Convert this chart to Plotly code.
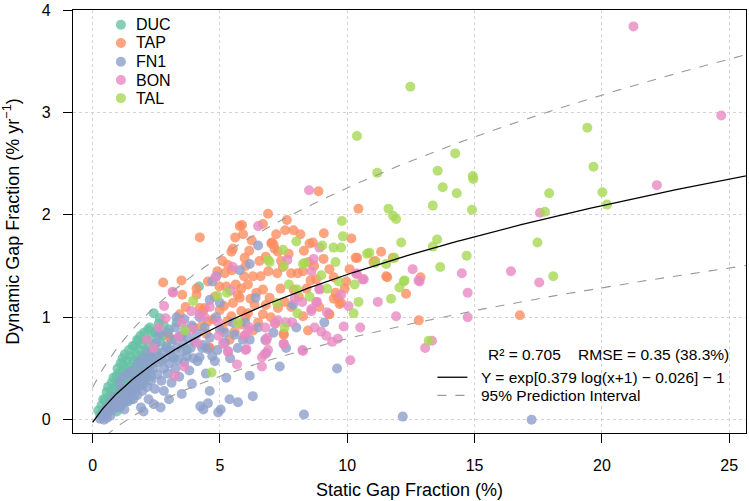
import numpy as np
import plotly.graph_objects as go

# ---- data ----
duc_x = [0.22, 0.3, 0.35, 0.42, 0.48, 0.5, 0.55, 0.58, 0.61, 0.65,
         0.7, 0.72, 0.75, 0.78, 0.82, 0.85, 0.88, 0.9, 0.94, 0.96, 0.98, 1.0,
         1.03, 1.05, 1.08, 1.1, 1.12, 1.15, 1.18, 1.2, 1.22, 1.25, 1.27, 1.3, 1.32, 1.35, 1.38, 1.4,
         1.43, 1.45, 1.48, 1.5, 1.53, 1.55, 1.58, 1.6, 1.63, 1.66, 1.68, 1.7, 1.73, 1.75, 1.77, 1.79, 1.8,
         1.83, 1.86, 1.88, 1.9, 1.93, 1.96, 2.0, 2.02, 2.05, 2.08, 2.1, 2.13, 2.15, 2.18, 2.2,
         2.25, 2.28, 2.3, 2.35, 2.4, 2.42, 2.45, 2.5, 2.55, 2.6, 2.64, 2.65, 2.7, 2.75, 2.8,
         2.9, 3.0, 3.1, 3.3, 3.5, 3.7, 4.18, 3.2,
         1.1, 1.5, 0.95, 1.35, 1.65, 2.0, 2.3]
duc_y = [0.09, 0.05, 0.14, 0.2, 0.19, 0.1, 0.27, 0.15, 0.32, 0.22,
         0.12, 0.28, 0.36, 0.2, 0.41, 0.3, 0.16, 0.24, 0.43, 0.35, 0.5, 0.28,
         0.45, 0.19, 0.37, 0.55, 0.3, 0.47, 0.6, 0.54, 0.23, 0.4, 0.64, 0.33, 0.5, 0.58, 0.45, 0.28,
         0.68, 0.38, 0.52, 0.62, 0.3, 0.45, 0.72, 0.57, 0.4, 0.72, 0.5, 0.64, 0.35, 0.78, 0.58, 0.77, 0.45,
         0.68, 0.52, 0.82, 0.4, 0.62, 0.74, 0.55, 0.85, 0.46, 0.68, 0.78, 0.6, 0.5, 0.88, 0.71,
         0.9, 0.62, 0.8, 0.55, 1.04, 0.72, 0.85, 0.86, 0.66, 0.94, 0.99, 0.76, 0.58, 0.82, 0.92,
         0.7, 0.88, 0.78, 0.95, 0.82, 0.68, 1.30, 0.6,
         0.13, 0.2, 0.08, 0.18, 0.25, 0.35, 0.42]

tap_x = [6.89, 6.69, 7.63, 7.21, 7.56, 7.89, 8.16, 9.08, 8.87, 10.44, 10.16, 7.02, 7.15, 8.52, 8.65, 11.33,
         12.81, 12.88, 12.31, 9.3, 8.46, 7.5, 7.18, 9.96, 9.63, 9.7, 11.53, 10.39, 11.1, 11.79,
         10.33, 11.03, 9.07, 10.09, 8.56, 8.78, 9.47, 11.57, 9.54, 9.47, 9.76, 8.26, 9.28, 8.49, 8.26, 16.78,
         4.21, 5.78, 5.87, 5.91, 7.04, 7.11, 5.51, 5.45, 6.8, 5.97, 7.28, 7.47, 7.8, 8.05, 5.32, 5.47, 5.19,
         5.95, 6.3, 6.6, 7.25, 4.53, 4.98, 5.25, 5.62, 5.84, 6.1, 6.43, 6.69, 6.95, 7.38, 4.8, 5.16, 5.51,
         5.84, 6.36, 6.69, 4.4, 5.45, 7.28, 7.54,
         2.77, 3.49, 3.52, 4.08, 3.65, 3.42, 4.21, 4.56, 7.51,
         4.08, 4.34, 4.53, 4.47, 4.6, 4.99, 5.78, 5.84, 5.97, 3.0, 3.95, 4.27, 4.73, 5.12, 5.58, 5.38, 6.1,
         6.0, 6.5, 7.0, 6.3, 7.8, 8.1, 8.9, 9.9, 6.8, 6.2, 5.3, 5.7, 6.55, 6.15, 6.25, 7.4, 7.7, 6.9, 8.3,
         8.7, 9.3, 5.1, 5.6, 6.0, 4.9, 7.9, 8.4]
tap_y = [2.01, 1.91, 1.95, 1.81, 1.85, 1.85, 1.81, 1.82, 2.23, 2.06, 1.77, 1.72, 1.67, 1.72, 1.73, 1.64,
         0.97, 1.39, 1.23, 1.03, 0.87, 0.84, 0.94, 1.35, 1.19, 1.13, 1.40, 1.58, 1.55, 1.58,
         1.58, 1.54, 1.57, 1.47, 1.36, 1.37, 1.39, 1.39, 1.24, 1.18, 1.14, 1.01, 1.03, 1.54, 1.45, 1.02,
         1.78, 1.89, 1.90, 1.81, 1.73, 1.71, 1.67, 1.64, 1.59, 1.58, 1.64, 1.49, 1.43, 1.43, 1.51, 1.46, 1.43,
         1.40, 1.40, 1.40, 1.43, 1.35, 1.30, 1.30, 1.32, 1.28, 1.32, 1.24, 1.27, 1.19, 1.28, 1.20, 1.11, 1.14,
         1.06, 1.12, 1.03, 1.09, 1.01, 1.09, 1.15,
         1.34, 1.36, 1.22, 1.22, 1.10, 1.03, 1.09, 0.71, 0.83,
         1.28, 1.06, 0.96, 0.84, 0.70, 1.07, 1.19, 0.93, 0.82, 0.81, 0.90, 0.91, 0.98, 0.88, 0.86, 0.78, 1.04,
         1.0, 0.95, 1.0, 0.87, 1.1, 1.2, 1.1, 1.28, 1.12, 1.18, 0.96, 1.22, 1.55, 1.65, 1.75, 1.55, 1.62, 1.45, 1.65,
         1.5, 1.47, 1.55, 1.78, 1.5, 1.45, 1.27, 1.28]

fn1_x = [0.29, 0.57, 0.4, 0.65, 0.45, 0.8, 0.7, 0.9, 0.55, 1.0, 1.1, 0.75, 1.2, 0.85, 1.15, 1.25, 1.3, 1.35,
         1.4, 1.45, 1.5, 1.55, 1.6, 1.62, 1.7, 1.75, 1.8, 1.85, 1.9, 1.95, 2.0, 2.0, 2.05, 2.1, 2.15, 2.2,
         2.25, 2.3, 2.35, 2.4, 2.4, 2.45, 2.5, 2.55, 2.6, 2.67, 2.7, 2.75, 2.8, 2.8, 2.85, 2.9, 2.95, 3.0,
         3.05, 3.1, 3.15, 3.2, 3.25, 3.3, 3.35, 3.4, 3.45, 3.5, 3.55, 3.6, 3.65, 3.7, 3.75, 3.8, 3.85, 3.9,
         3.95, 4.0, 4.1, 4.12, 4.2, 4.23, 4.3, 4.34, 4.35, 4.4, 4.51, 4.53, 4.6, 4.7, 4.8, 4.93, 5.03, 5.0,
         5.19, 5.25, 5.38, 5.58, 5.71, 5.9, 6.17, 6.17, 6.29, 6.78, 6.82, 7.35, 8.3, 9.6, 12.18, 17.24,
         6.5, 6.17, 5.78, 4.86, 4.7, 5.0, 4.6, 6.4, 7.87, 3.3, 3.6, 4.2, 4.85, 5.5, 6.0,
         1.05, 1.2, 1.4, 1.58, 1.78, 1.98, 2.15, 2.5, 2.62, 2.95, 3.25, 3.9, 4.45, 4.9, 5.4, 5.2, 4.6,
         3.5, 3.0, 2.2, 1.9, 5.7, 6.5, 7.1, 7.6, 8.0, 9.1]
fn1_y = [0.01, 0.02, 0.05, 0.08, 0.0, 0.1, 0.04, 0.15, 0.12, 0.12, 0.2, 0.18, 0.16, 0.22, 0.28, 0.1, 0.22, 0.3,
         0.18, 0.25, 0.34, 0.28, 0.2, 0.38, 0.3, 0.24, 0.4, 0.33, 0.45, 0.28, 0.08, 0.38, 0.5, 0.42, 0.32, 0.55,
         0.47, 0.38, 0.6, 0.15, 0.5, 0.3, 0.64, 0.44, 0.56, 0.12, 0.38, 0.66, 0.28, 0.5, 0.6, 0.72, 0.45, 0.55,
         0.68, 0.36, 0.62, 0.78, 0.5, 0.7, 0.58, 0.42, 0.82, 0.66, 0.74, 0.56, 0.88, 0.62, 0.8, 0.48, 0.7, 0.92,
         0.6, 0.76, 0.84, 0.57, 0.61, 0.13, 0.7, 0.73, 0.10, 0.9, 0.69, 0.16, 0.8, 0.62, 0.57, 0.07, 0.10, 0.88,
         0.75, 0.41, 0.2, 0.83, 0.17, 0.78, 0.78, 0.43, 0.23, 0.78, 0.65, 0.52, 0.05, 0.5, 0.03, 0.0,
         1.70, 1.52, 1.46, 1.40, 1.35, 1.14, 1.17, 1.19, 1.12, 1.0, 0.98, 1.0, 1.0, 0.95, 0.95,
         0.35, 0.42, 0.45, 0.48, 0.55, 0.6, 0.65, 0.75, 0.84, 0.85, 0.9, 0.35, 0.45, 0.68, 0.6, 0.85, 0.28,
         0.25, 0.2, 0.2, 0.12, 0.7, 0.9, 0.85, 0.7, 0.9, 0.95]

bon_x = [21.24, 24.69, 22.16, 17.57, 16.43, 17.54,
         14.5, 14.73, 14.73, 13.33, 13.06, 12.84, 12.57, 11.92, 10.51, 10.12, 9.86, 9.63, 9.41, 9.18, 8.98,
         8.72, 8.24, 7.84, 7.61, 7.28, 7.5, 6.82, 6.89, 6.65, 6.65, 8.78, 8.91, 8.59, 10.38, 10.65, 10.05, 7.65,
         8.5, 6.5, 8.91, 8.68, 8.59, 10.35, 10.6, 12.8, 8.81, 9.76, 8.23, 8.59, 8.91,
         5.51, 4.82, 7.93, 5.42, 3.16, 3.88, 2.87,
         4.95, 5.12, 5.32, 5.67, 6.01, 5.97, 6.1, 6.17, 6.78, 6.86, 6.76, 7.15, 7.51, 8.26,
         2.12, 2.4, 3.59, 3.23, 3.38, 4.21, 4.93, 5.32, 6.04, 2.81, 3.14,
         3.5, 3.9, 4.4, 4.1, 2.6, 4.6, 9.2, 11.2]
bon_y = [3.84, 2.97, 2.29, 2.02, 1.45, 1.34,
         1.43, 1.24, 1.0, 0.77, 0.70, 1.35, 1.47, 1.01, 0.90, 0.58, 0.91, 0.79, 0.76, 0.82, 0.86,
         0.90, 0.68, 0.95, 0.95, 0.97, 0.74, 0.77, 0.68, 0.61, 0.52, 1.15, 1.28, 1.06, 1.42, 1.37, 1.11, 1.56,
         2.24, 1.89, 1.68, 1.57, 1.45, 1.43, 1.37, 1.36, 1.15, 1.22, 1.15, 1.08, 1.27,
         1.49, 1.39, 1.18, 1.26, 1.24, 1.06, 0.99,
         0.82, 0.74, 0.66, 0.54, 0.68, 0.82, 0.87, 0.90, 0.90, 0.80, 0.64, 0.94, 0.74, 0.67,
         0.78, 0.70, 0.52, 0.43, 0.81, 1.03, 0.95, 0.67, 0.69, 1.11, 1.25,
         0.95, 0.88, 1.0, 0.75, 0.9, 1.1, 1.05, 1.15]

tal_x = [12.48, 10.38, 11.18, 14.24, 13.55, 14.93, 14.95, 13.75, 14.3, 13.36, 14.9, 11.62, 11.8, 11.92,
         9.79, 9.83, 9.76, 9.46, 8.0, 7.48, 9.02, 12.12, 13.53, 13.36, 10.87, 10.78,
         19.43, 19.67, 17.93, 20.02, 20.2, 17.76, 17.47, 18.09,
         14.69, 13.65, 12.22, 12.05, 11.72, 10.44, 10.25, 10.29, 13.2, 11.85, 11.53, 9.21, 8.52, 8.04,
         7.54, 6.89, 7.24, 11.1, 9.54, 8.33, 8.98, 9.67, 12.25,
         6.95, 7.51, 5.28, 8.26, 7.71, 8.04, 4.67, 3.95, 3.62, 4.9, 5.71]
tal_y = [3.25, 2.77, 2.41, 2.60, 2.43, 2.38, 2.35, 2.27, 2.21, 2.09, 2.05, 2.06, 1.99, 1.96,
         1.94, 1.79, 1.68, 1.68, 1.74, 1.66, 1.70, 1.73, 1.76, 1.69, 1.63, 1.62,
         2.85, 2.47, 2.21, 2.22, 2.10, 2.03, 1.73, 1.40,
         1.60, 1.49, 1.35, 1.29, 1.18, 1.15, 1.04, 1.32, 0.77, 1.58, 1.52, 1.28, 1.20, 1.04,
         0.90, 1.56, 1.14, 1.53, 1.54, 1.53, 1.41, 1.35, 1.36,
         1.54, 1.50, 1.24, 1.52, 1.32, 1.27, 0.46, 1.16, 0.87, 1.21, 0.95]

sites = ["DUC", "TAP", "FN1", "BON", "TAL"]
site_x = [duc_x, tap_x, fn1_x, bon_x, tal_x]
site_y = [duc_y, tap_y, fn1_y, bon_y, tal_y]
site_colors = ["rgba(102,194,165,0.8)", "rgba(252,141,98,0.8)", "rgba(141,160,203,0.8)",
               "rgba(231,138,195,0.8)", "rgba(166,216,84,0.8)"]

# fitted model: Y = exp[a log(x+1) + b] - 1, prediction band +/- pi_half on log scale
fit_a = 0.379
fit_b = -0.026
pi_half = 0.30

FONT = "Liberation Sans, Arial, sans-serif"

fig = go.Figure()

for name, xs, ys, col in zip(sites, site_x, site_y, site_colors):
    fig.add_trace(go.Scatter(x=xs, y=ys, mode="markers", name=name,
                             marker=dict(size=10, color=col, line=dict(width=0)),
                             showlegend=False))

xx = np.linspace(0, 26, 300)
fit_y = np.exp(fit_a * np.log(xx + 1) + fit_b) - 1
up_y = np.exp(fit_a * np.log(xx + 1) + fit_b + pi_half) - 1
lo_y = np.exp(fit_a * np.log(xx + 1) + fit_b - pi_half) - 1

fig.add_trace(go.Scatter(x=xx, y=up_y, mode="lines", line=dict(color="#9a9a9a", width=1.1, dash="dash"),
                         showlegend=False, hoverinfo="skip"))
fig.add_trace(go.Scatter(x=xx, y=lo_y, mode="lines", line=dict(color="#9a9a9a", width=1.1, dash="dash"),
                         showlegend=False, hoverinfo="skip"))
fig.add_trace(go.Scatter(x=xx, y=fit_y, mode="lines", line=dict(color="black", width=1.3),
                         showlegend=False, hoverinfo="skip"))

# site legend (top-left), drawn by hand to match R's legend spacing
leg_rows = [0.965, 0.922, 0.8775, 0.8344, 0.7916]
for name, col, yy in zip(sites, site_colors, leg_rows):
    fig.add_shape(type="circle", xref="paper", yref="paper", xsizemode="pixel", ysizemode="pixel",
                  xanchor=0.0712, yanchor=yy, x0=-5, x1=5, y0=-5, y1=5,
                  fillcolor=col, line=dict(width=0))
    fig.add_annotation(x=0.0905, y=yy, xref="paper", yref="paper", text=name, showarrow=False,
                       xanchor="left", yanchor="middle", font=dict(size=16, color="black"))

# fit legend (bottom-right)
fig.add_annotation(x=0.6142, y=0.1866, xref="paper", yref="paper",
                   text="R² = 0.705\u00a0\u00a0\u00a0\u00a0RMSE = 0.35 (38.3%)",
                   showarrow=False, xanchor="left", yanchor="middle", font=dict(size=15.5, color="black"))
fig.add_shape(type="line", xref="paper", yref="paper", x0=0.5415, x1=0.586, y0=0.1318, y1=0.1318,
              line=dict(color="black", width=1.3))
fig.add_shape(type="line", xref="paper", yref="paper", x0=0.5415, x1=0.586, y0=0.089, y1=0.089,
              line=dict(color="#9a9a9a", width=1.1, dash="dash"))
fig.add_annotation(x=0.6039, y=0.1318, xref="paper", yref="paper",
                   text="Y = exp[0.379 log(x+1) \u2212 0.026] \u2212 1",
                   showarrow=False, xanchor="left", yanchor="middle", font=dict(size=15.5, color="black"))
fig.add_annotation(x=0.6039, y=0.089, xref="paper", yref="paper",
                   text="95% Prediction Interval",
                   showarrow=False, xanchor="left", yanchor="middle", font=dict(size=15.5, color="black"))

axis_common = dict(showline=True, mirror=True, linecolor="black", linewidth=1.3,
                   ticks="outside", ticklen=9, tickwidth=1.3, tickcolor="black",
                   showgrid=True, gridcolor="#d3d3d3", griddash="dot", gridwidth=1,
                   zeroline=False, tickfont=dict(size=16, color="black"),
                   ticklabeloverflow="allow")

fig.update_xaxes(range=[-0.77, 25.66], tickvals=[0, 5, 10, 15, 20, 25],
                 title=dict(text="Static Gap Fraction (%)", font=dict(size=18, color="black"), standoff=10),
                 ticklabelstandoff=9, **axis_common)
fig.update_yaxes(range=[-0.13, 4.0], tickvals=[0, 1, 2, 3, 4],
                 title=dict(text="Dynamic Gap Fraction (% yr<sup>\u22121</sup>)",
                            font=dict(size=18, color="black"), standoff=20),
                 ticklabelstandoff=9, **axis_common)

fig.update_layout(width=749, height=501, margin=dict(l=73, r=2, t=6, b=68),
                  paper_bgcolor="white", plot_bgcolor="white",
                  font=dict(family=FONT, color="black"), showlegend=False)

# the page's default body margin would shift the figure by 8px, so drop it
fig.write_html("out.html", config={"displayModeBar": False},
               post_script="document.body.style.margin='0';")
